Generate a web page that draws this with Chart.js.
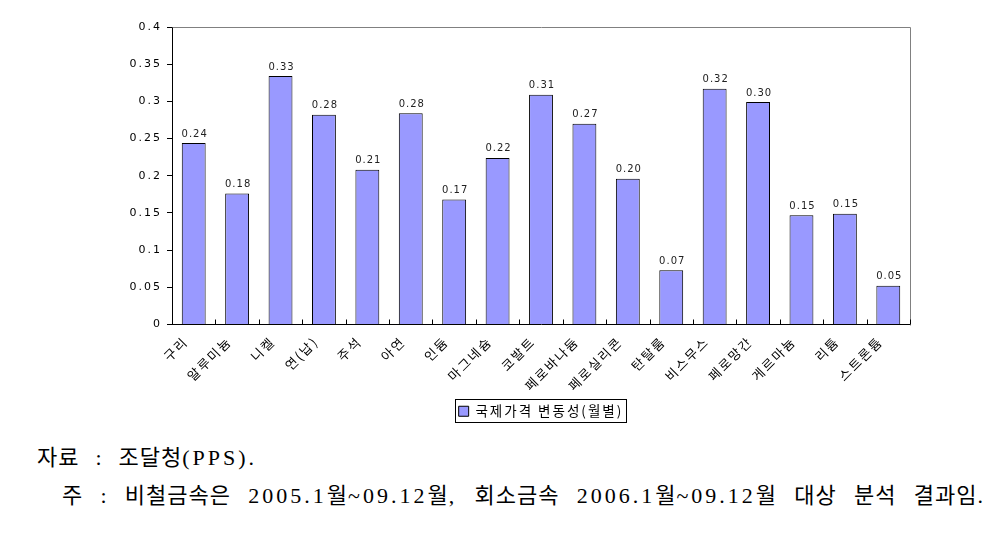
<!DOCTYPE html>
<html><head><meta charset="utf-8">
<script src="https://cdn.jsdelivr.net/npm/chart.js@4"></script>
<style>
html,body{margin:0;padding:0;background:#fff;width:1008px;height:546px;overflow:hidden}
#wrap{position:absolute;left:0;top:0;width:1008px;height:432px}
.note{position:absolute;font-family:"Liberation Serif","Noto Sans CJK KR",serif;font-size:22px;color:#000;line-height:26px;text-align:justify;text-align-last:justify;letter-spacing:1px}
.note .l{letter-spacing:3px}
</style></head><body>
<div id="wrap"><canvas id="c"></canvas></div>
<div class="note" style="left:37px;top:445px;width:220px">자료 : 조달청<span class="l">(PPS).</span></div>
<div class="note" style="left:62px;top:483px;width:924px">주 : 비철금속은 <span class="l">2005.1</span>월<span class="l">~09.12</span>월<span class="l">,</span> 회소금속 <span class="l">2006.1</span>월<span class="l">~09.12</span>월 대상 분석 결과임<span class="l">.</span></div>
<script>
const categories = ['구리','알루미늄','니켈','연(납)','주석','아연','인듐','마그네슘','코발트','페로바나듐','페로실리콘','탄탈룸','비스무스','페로망간','게르마늄','리튬','스트론튬'];
const volatility = [0.244,0.176,0.334,0.282,0.208,0.284,0.168,0.224,0.309,0.270,0.196,0.073,0.317,0.299,0.147,0.149,0.052];
const yTickValues = [0,0.05,0.1,0.15,0.2,0.25,0.3,0.35,0.4];
const seriesName = '국제가격 변동성(월별)';

const FONT = '"Noto Sans CJK KR","DejaVu Sans",sans-serif';

const spacingPlugin = {
  id:'spacing',
  beforeUpdate(chart){ chart.ctx.letterSpacing = '2px'; },
  beforeDraw(chart){ chart.ctx.letterSpacing = '2px'; },
  afterLayout(chart){
    const lg = chart.legend;
    if (lg){ lg.left += 86; lg.right += 86; }
  }
};

const decoPlugin = {
  id:'deco',
  afterDraw(chart){
    const ctx = chart.ctx, a = chart.chartArea, xs = chart.scales.x;
    ctx.save();
    ctx.strokeStyle = '#808080'; ctx.lineWidth = 1;
    ctx.beginPath();
    ctx.moveTo(Math.round(a.left)+0.5, Math.round(a.top)+0.5);
    ctx.lineTo(Math.round(a.right)+0.5, Math.round(a.top)+0.5);
    ctx.lineTo(Math.round(a.right)+0.5, Math.round(a.bottom)+0.5);
    ctx.stroke();
    ctx.strokeStyle = '#000';
    const n = categories.length, w = xs.width / n;
    ctx.beginPath();
    for (let i=1;i<=n;i++){
      const x = Math.round(xs.left + i*w)+0.5;
      ctx.moveTo(x, a.bottom); ctx.lineTo(x, a.bottom-5);
    }
    ctx.stroke();
    const lg = chart.legend;
    if (lg && lg.legendHitBoxes && lg.legendHitBoxes.length){
      const hb = lg.legendHitBoxes[0];
      ctx.strokeStyle = '#000';
      ctx.strokeRect(Math.round(hb.left-4)+0.5, Math.round(hb.top-6)+0.5, Math.round(hb.width+6), 23);
    }
    ctx.restore();
  },
  afterDatasetsDraw(chart){
    const ctx = chart.ctx;
    const meta = chart.getDatasetMeta(0);
    ctx.save();
    ctx.letterSpacing = '1px';
    ctx.font = '10px "DejaVu Sans", sans-serif';
    ctx.fillStyle = '#222';
    ctx.textAlign = 'center';
    ctx.textBaseline = 'bottom';
    meta.data.forEach((el,i)=>{
      ctx.fillText(volatility[i].toFixed(2), el.x + 1, el.y - 4);
    });
    ctx.restore();
  }
};

new Chart(document.getElementById('c'), {
  type:'bar',
  data:{
    labels: categories,
    datasets:[{
      label: seriesName,
      data: volatility,
      backgroundColor:'#9999FF',
      borderColor:'#000',
      borderWidth:1,
      barPercentage:0.55,
      categoryPercentage:1
    }]
  },
  options:{
    responsive:true,
    maintainAspectRatio:false,
    animation:false,
    layout:{padding:{left:0,right:98,top:27,bottom:4}},
    plugins:{
      tooltip:{enabled:false},
      legend:{
        position:'bottom',
        labels:{
          boxWidth:10, boxHeight:10, padding:8,
          color:'#000',
          font:{family:FONT,size:13.5},
          generateLabels(chart){
            return [{text:seriesName, fillStyle:'#9999FF', strokeStyle:'#000', lineWidth:1, datasetIndex:0}];
          }
        }
      }
    },
    scales:{
      y:{
        min:0, max:0.4,
        afterBuildTicks(s){ s.ticks = yTickValues.map(v=>({value:v})); },
        afterFit(s){ s.width = 172; },
        ticks:{
          color:'#000', padding:5,
          font:{family:'"DejaVu Sans",sans-serif',size:11},
          callback:v=>String(+(+v).toFixed(2))
        },
        grid:{display:true, drawOnChartArea:false, drawTicks:true, tickLength:5, color:'#000'},
        border:{display:true, color:'#000', width:1}
      },
      x:{
        afterFit(s){ s.height = 72; },
        ticks:{
          color:'#000', maxRotation:45, minRotation:45, padding:1, autoSkip:false, labelOffset:-8,
          font:{family:FONT,size:13}
        },
        grid:{display:false},
        border:{display:true, color:'#000', width:1}
      }
    }
  },
  plugins:[spacingPlugin, decoPlugin]
});
</script>
</body></html>
